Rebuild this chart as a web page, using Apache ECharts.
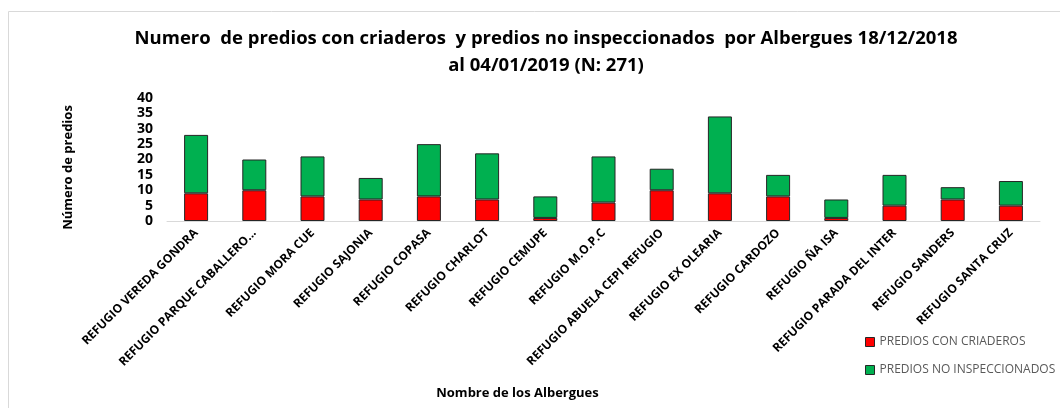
<!DOCTYPE html>
<html lang="es">

<head>
    <meta charset="UTF-8">
    <title>Predios por Albergues</title>
    <script src="https://cdn.jsdelivr.net/npm/echarts@6/dist/echarts.min.js"></script>
    <style>
        * {
            margin: 0;
            padding: 0
        }

        html,
        body {
            width: 1060px;
            height: 408px;
            background: #fff;
        }
    </style>
</head>

<body>
    <div id="main" style="width:1060px;height:408px"></div>

    <script>
        var albergues = [
            'REFUGIO VEREDA GONDRA', 'REFUGIO PARQUE CABALLERO...', 'REFUGIO MORA CUE',
            'REFUGIO SAJONIA', 'REFUGIO COPASA', 'REFUGIO CHARLOT', 'REFUGIO CEMUPE',
            'REFUGIO M.O.P.C', 'REFUGIO ABUELA CEPI REFUGIO', 'REFUGIO EX OLEARIA',
            'REFUGIO CARDOZO', 'REFUGIO ÑA ISA', 'REFUGIO PARADA DEL INTER',
            'REFUGIO SANDERS', 'REFUGIO SANTA CRUZ'
        ];
        var conCriaderos = [9, 10, 8, 7, 8, 7, 1, 6, 10, 9, 8, 1, 5, 7, 5];
        var noInspeccionados = [19, 10, 13, 7, 17, 15, 7, 15, 7, 25, 7, 6, 10, 4, 8];
        var yTicks = [0, 5, 10, 15, 20, 25, 30, 35, 40];

        var font = '"Open Sans", sans-serif';

        echarts.init(document.getElementById('main')).setOption({
            animation: false,
            textStyle: { fontFamily: font },
            title: {
                text: 'Numero  de predios con criaderos  y predios no inspeccionados  por Albergues 18/12/2018\nal 04/01/2019 (N: 271)',
                left: 541,
                top: 20,
                textAlign: 'center',
                textStyle: {
                    fontFamily: font,
                    fontSize: 18.5,
                    fontWeight: 'bold',
                    color: '#000',
                    lineHeight: 27
                }
            },
            graphic: [{
                type: 'rect',
                shape: { x: 8.5, y: 11.5, width: 1100, height: 500 },
                style: { fill: 'none', stroke: '#d9d9d9', lineWidth: 1 },
                silent: true
            }],
            legend: {
                orient: 'vertical',
                left: 860,
                top: 331,
                icon: 'rect',
                itemWidth: 9,
                itemHeight: 9,
                itemGap: 16,
                itemStyle: { borderColor: '#262626', borderWidth: 1 },
                textStyle: { fontFamily: font, fontSize: 12, color: '#595959' },
                data: ['PREDIOS CON CRIADEROS', 'PREDIOS NO INSPECCIONADOS']
            },
            grid: {
                left: 167,
                right: 20,
                top: 98,
                bottom: 187
            },
            xAxis: {
                type: 'category',
                data: albergues,
                name: 'Nombre de los Albergues',
                nameLocation: 'middle',
                nameGap: 166,
                nameTextStyle: { fontFamily: font, fontSize: 13, fontWeight: 'bold', color: '#000', padding: [0, 172, 0, 0] },
                axisLine: { lineStyle: { color: '#d9d9d9', width: 1 } },
                axisTick: { show: false },
                axisLabel: {
                    interval: 0,
                    rotate: 45,
                    margin: 10,
                    fontFamily: font,
                    fontSize: 12,
                    fontWeight: 'bold',
                    color: '#000'
                }
            },
            yAxis: {
                type: 'value',
                min: 0,
                max: 40,
                interval: 5,
                name: 'Número de predios',
                nameLocation: 'middle',
                nameGap: 92,
                nameRotate: 90,
                nameTextStyle: { fontFamily: font, fontSize: 13, fontWeight: 'bold', color: '#000', padding: [0, 16, 0, 0] },
                axisLine: { show: false },
                axisTick: { show: false },
                splitLine: { show: false },
                axisLabel: {
                    margin: 14,
                    fontFamily: font,
                    fontSize: 14,
                    fontWeight: 'bold',
                    color: '#000',
                    formatter: function (v) { return yTicks.indexOf(v) >= 0 ? String(v) : ''; }
                }
            },
            series: [{
                name: 'PREDIOS CON CRIADEROS',
                type: 'bar',
                stack: 'total',
                barWidth: 24,
                data: conCriaderos,
                itemStyle: { color: '#ff0000', borderColor: '#262626', borderWidth: 1 }
            }, {
                name: 'PREDIOS NO INSPECCIONADOS',
                type: 'bar',
                stack: 'total',
                barWidth: 24,
                data: noInspeccionados,
                itemStyle: { color: '#00b050', borderColor: '#262626', borderWidth: 1 }
            }]
        });
    </script>
</body>

</html>
